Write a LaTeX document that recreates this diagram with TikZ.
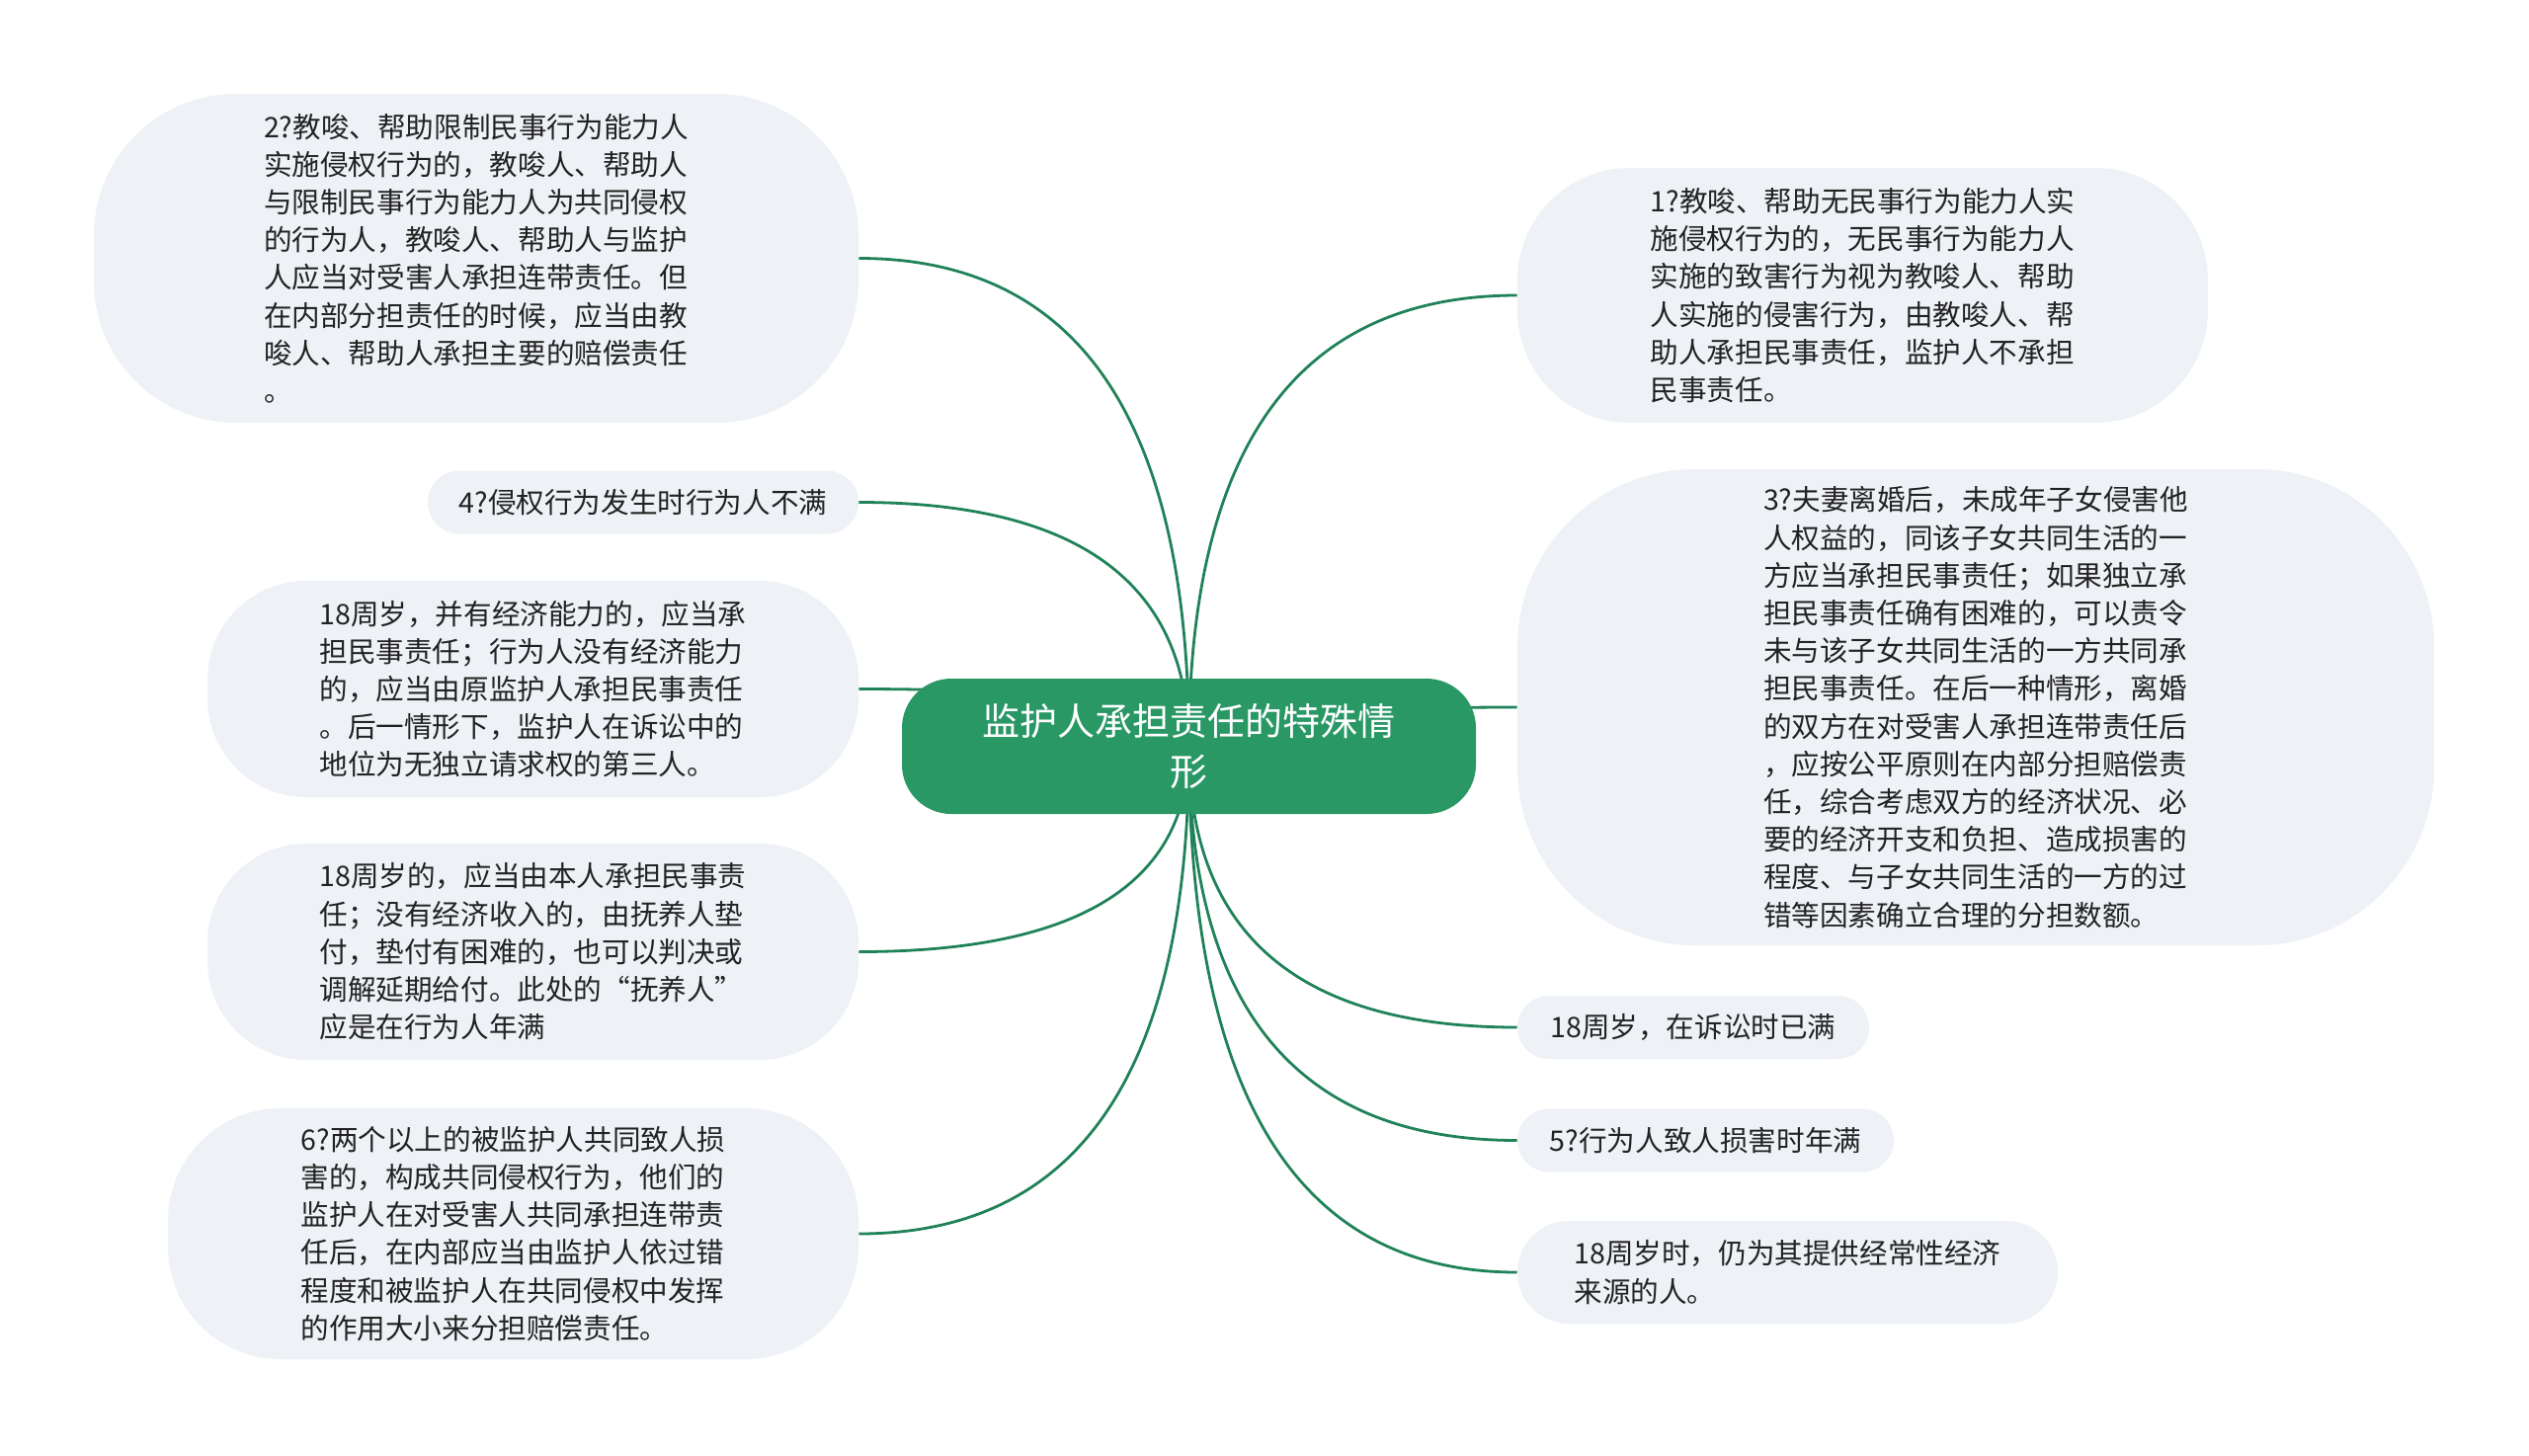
\documentclass[tikz,border=0pt]{standalone}
\usepackage{fontspec}
\setmainfont{Noto Sans CJK SC}
\usetikzlibrary{calc,backgrounds}
\definecolor{rootgreen}{HTML}{299865}
\definecolor{linkgreen}{HTML}{208258}
\definecolor{leafgray}{HTML}{EEF1F5}
\definecolor{leaftext}{HTML}{222222}
\tikzset{
  leaf/.style={fill=leafgray, text=leaftext, inner sep=0pt, align=left,
    font=\fontsize{14.3pt}{19.1pt}\selectfont},
  rootbox/.style={fill=rootgreen, text=white, inner sep=0pt, align=center,
    font=\fontsize{19pt}{25.3pt}\selectfont, minimum width=290.5pt,
    minimum height=68.5pt, rounded corners=25pt},
  link/.style={draw=linkgreen, line width=1.4pt}
}
\newcommand{\leftlink}[1]{%
  \draw[link] (root.center) .. controls ($(root.center)!0.667!(root.center |- #1.east)$)
    and ($(#1.east)!0.667!(root.center |- #1.east)$) .. (#1.east);}
\newcommand{\rightlink}[1]{%
  \draw[link] (root.center) .. controls ($(root.center)!0.667!(root.center |- #1.west)$)
    and ($(#1.west)!0.667!(root.center |- #1.west)$) .. (#1.west);}
\begin{document}
\begin{tikzpicture}[x=0.5pt,y=-0.5pt]
\useasboundingbox (0,0) rectangle (2560,1473);

\node[rootbox] (root) at (1203.5,755.5) {监护人承担责任的特殊情\\形};

% left side
\node[leaf, minimum width=387pt, minimum height=166.5pt, rounded corners=72pt] (n2) at (482,261.5)
{2?教唆、帮助限制民事行为能力人\\实施侵权行为的，教唆人、帮助人\\与限制民事行为能力人为共同侵权\\的行为人，教唆人、帮助人与监护\\人应当对受害人承担连带责任。但\\在内部分担责任的时候，应当由教\\唆人、帮助人承担主要的赔偿责任\\。};

\node[leaf, minimum width=218pt, minimum height=32pt, rounded corners=16pt] (n4) at (651,508.5)
{4?侵权行为发生时行为人不满};

\node[leaf, minimum width=329.5pt, minimum height=109.5pt, rounded corners=50pt] (na) at (539.5,697.5)
{18周岁，并有经济能力的，应当承\\担民事责任；行为人没有经济能力\\的，应当由原监护人承担民事责任\\。后一情形下，监护人在诉讼中的\\地位为无独立请求权的第三人。};

\node[leaf, minimum width=329.5pt, minimum height=109.5pt, rounded corners=50pt] (nb) at (539.5,963.5)
{18周岁的，应当由本人承担民事责\\任；没有经济收入的，由抚养人垫\\付，垫付有困难的，也可以判决或\\调解延期给付。此处的“抚养人”\\应是在行为人年满};

\node[leaf, minimum width=349.5pt, minimum height=127pt, rounded corners=57pt] (n6) at (519.5,1249)
{6?两个以上的被监护人共同致人损\\害的，构成共同侵权行为，他们的\\监护人在对受害人共同承担连带责\\任后，在内部应当由监护人依过错\\程度和被监护人在共同侵权中发挥\\的作用大小来分担赔偿责任。};

% right side
\node[leaf, minimum width=349.5pt, minimum height=129pt, rounded corners=57pt] (n1) at (1885.5,299)
{1?教唆、帮助无民事行为能力人实\\施侵权行为的，无民事行为能力人\\实施的致害行为视为教唆人、帮助\\人实施的侵害行为，由教唆人、帮\\助人承担民事责任，监护人不承担\\民事责任。};

\node[leaf, minimum width=464pt, minimum height=241pt, rounded corners=90pt] (n3) at (2000,716)
{3?夫妻离婚后，未成年子女侵害他\\人权益的，同该子女共同生活的一\\方应当承担民事责任；如果独立承\\担民事责任确有困难的，可以责令\\未与该子女共同生活的一方共同承\\担民事责任。在后一种情形，离婚\\的双方在对受害人承担连带责任后\\，应按公平原则在内部分担赔偿责\\任，综合考虑双方的经济状况、必\\要的经济开支和负担、造成损害的\\程度、与子女共同生活的一方的过\\错等因素确立合理的分担数额。};

\node[leaf, minimum width=178pt, minimum height=32pt, rounded corners=16pt] (nc) at (1714,1040)
{18周岁，在诉讼时已满};

\node[leaf, minimum width=190.5pt, minimum height=32pt, rounded corners=16pt] (n5) at (1726.5,1154.5)
{5?行为人致人损害时年满};

\node[leaf, minimum width=273.5pt, minimum height=52pt, rounded corners=26pt] (nd) at (1809.5,1288)
{18周岁时，仍为其提供经常性经济\\来源的人。};

\begin{pgfonlayer}{background}
\fill[white] (0,0) rectangle (2560,1473);
\leftlink{n2}
\leftlink{n4}
\leftlink{na}
\leftlink{nb}
\leftlink{n6}
\rightlink{n1}
\rightlink{n3}
\rightlink{nc}
\rightlink{n5}
\rightlink{nd}
\end{pgfonlayer}
\end{tikzpicture}
\end{document}
